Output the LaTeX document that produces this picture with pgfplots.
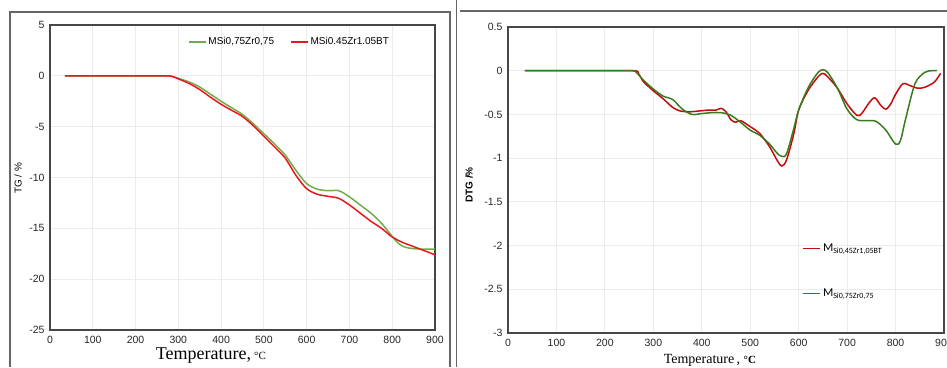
\documentclass[border=0pt]{standalone}
\usepackage{fontspec}
\setmainfont{Liberation Sans}
\newfontfamily\seriffont{Liberation Serif}
\newfontfamily\califont{Carlito}
\usepackage{pgfplots}
\pgfplotsset{compat=1.18}
\definecolor{lgreen}{RGB}{112,173,71}
\definecolor{lred}{RGB}{232,24,30}
\definecolor{rred}{RGB}{196,10,10}
\definecolor{rgreen}{RGB}{58,122,30}
\pgfplotsset{
  common/.style={
    scale only axis, xmin=0, xmax=900, xtick={0,100,...,900},
    axis line style={draw=black!72, line width=1.3pt},
    grid=major, major grid style={gray!15, line width=0.9pt},
    tick style={draw=none},
    ticklabel style={font=\fontsize{10.5}{11}\selectfont, text=black!85},
    xticklabel style={yshift=-3pt},
    yticklabel style={xshift=-2pt},
    /pgf/number format/assume math mode=true,
    /pgf/number format/1000 sep={},
    legend cell align=left,
  }
}
\begin{document}
\begin{tikzpicture}
\useasboundingbox (0pt,0pt) rectangle (947pt,367pt);
\draw[black!60, line width=1.2pt] (10pt,0pt) -- (10pt,355pt) -- (450pt,355pt) -- (450pt,0pt);
\draw[black!60, line width=1.2pt] (456.5pt,0pt) -- (456.5pt,367pt);
\draw[black!60, line width=1.2pt] (460pt,356pt) -- (947pt,356pt);
\begin{axis}[common, at={(50pt,37pt)}, anchor=south west, width=385pt, height=305pt,
  ymin=-25, ymax=5, ytick={-25,-20,...,5},
  xlabel={\seriffont\fontsize{18}{19}\selectfont Temperature,\,{\fontsize{11}{12}\selectfont °C}},
  xlabel style={at={(axis description cs:0.418,-0.085)}, anchor=center},
  ylabel={\fontsize{10}{11}\selectfont TG / \%},
  ylabel style={at={(axis description cs:-0.083,0.498)}, anchor=center},
  legend style={at={(axis description cs:0.622,0.944)}, anchor=center, draw=none, fill=none,
    font=\fontsize{10}{11}\selectfont, legend columns=2,
    /tikz/every even column/.append style={column sep=14pt}},
]
\addplot[lgreen, line width=1.5pt, smooth] coordinates {
(35,0)(100,0)(200,0)(270,0)(285,-0.05)(300,-0.25)(325,-0.6)(350,-1.1)(375,-1.8)(400,-2.5)(425,-3.15)(450,-3.8)(475,-4.7)(500,-5.7)(525,-6.7)(550,-7.8)(575,-9.3)(600,-10.6)(625,-11.15)(650,-11.3)(675,-11.3)(700,-11.9)(725,-12.7)(750,-13.5)(775,-14.5)(800,-15.8)(815,-16.5)(830,-16.85)(850,-17.0)(875,-17.05)(900,-17.05)};
\addlegendentry{MSi0,75Zr0,75}
\addplot[lred, line width=1.5pt, smooth] coordinates {
(35,0)(100,0)(200,0)(270,0)(285,-0.05)(300,-0.3)(325,-0.75)(350,-1.35)(375,-2.1)(400,-2.8)(425,-3.4)(450,-4.0)(475,-4.9)(500,-5.95)(525,-7.0)(550,-8.1)(575,-9.8)(600,-11.1)(625,-11.65)(650,-11.85)(675,-12.05)(700,-12.7)(725,-13.5)(750,-14.3)(775,-15.0)(800,-15.85)(825,-16.4)(850,-16.8)(875,-17.2)(900,-17.6)};
\addlegendentry{MSi0.45Zr1.05BT}
\end{axis}
\begin{axis}[common, at={(508pt,34pt)}, anchor=south west, width=436pt, height=306pt,
  ymin=-3, ymax=0.5, ytick={-3,-2.5,...,0.5},
  yticklabel style={/pgf/number format/fixed},
  xlabel={\seriffont\fontsize{14}{15}\selectfont Temperature\,, {\bfseries\fontsize{11}{12}\selectfont °C}},
  xlabel style={at={(axis description cs:0.463,-0.088)}, anchor=center},
  ylabel={\bfseries\fontsize{10}{11}\selectfont DTG /\%},
  ylabel style={at={(axis description cs:-0.089,0.484)}, anchor=center},
  legend style={at={(axis description cs:0.668,0.305)}, anchor=north west, draw=none, fill=none,
    font=\califont\fontsize{12}{13}\selectfont, row sep=32pt},
]
\addplot[rred, line width=1.5pt, smooth] coordinates {
(35,0)(100,0)(200,0)(262,0)(270,-0.04)(280,-0.13)(290,-0.18)(300,-0.23)(320,-0.32)(340,-0.42)(355,-0.46)(375,-0.47)(395,-0.46)(415,-0.45)(430,-0.45)(440,-0.43)(450,-0.47)(460,-0.56)(470,-0.59)(480,-0.57)(500,-0.64)(520,-0.72)(540,-0.87)(555,-1.02)(565,-1.09)(575,-1.02)(590,-0.72)(600,-0.45)(620,-0.22)(640,-0.07)(650,-0.03)(660,-0.07)(680,-0.2)(700,-0.38)(720,-0.51)(730,-0.49)(745,-0.37)(757,-0.31)(770,-0.4)(780,-0.44)(790,-0.38)(800,-0.27)(815,-0.15)(830,-0.17)(845,-0.2)(860,-0.19)(880,-0.13)(893,-0.03)};
\addlegendentry{M\textsubscript{Si0,45Zr1,05BT}}
\addplot[rgreen, line width=1.5pt, smooth] coordinates {
(35,0)(100,0)(200,0)(255,0)(265,-0.02)(280,-0.11)(300,-0.21)(320,-0.29)(340,-0.33)(360,-0.44)(380,-0.5)(400,-0.49)(420,-0.48)(440,-0.48)(460,-0.51)(480,-0.59)(500,-0.68)(520,-0.74)(540,-0.84)(555,-0.94)(565,-0.98)(575,-0.95)(590,-0.66)(600,-0.45)(620,-0.19)(640,-0.02)(650,0.01)(660,-0.02)(680,-0.2)(700,-0.44)(720,-0.56)(740,-0.57)(760,-0.58)(780,-0.68)(800,-0.84)(810,-0.8)(820,-0.57)(840,-0.15)(860,-0.02)(875,0)(885,0)};
\addlegendentry{M\textsubscript{Si0,75Zr0,75}}
\end{axis}
\end{tikzpicture}
\end{document}
